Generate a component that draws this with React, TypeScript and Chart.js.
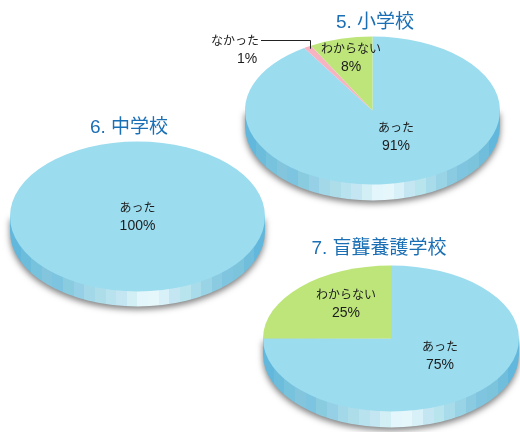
import React, { useEffect, useRef } from "react";
import { Chart, registerables } from "chart.js";

Chart.register(...registerables);

const WIDTH = 520;
const HEIGHT = 432;
const FONT = '"Liberation Sans", "Noto Sans CJK JP", sans-serif';

// Survey results per school type
const elementaryLabels = ["あった", "なかった", "わからない"];
const elementaryValues = [91, 1, 8];
const juniorHighLabels = ["あった"];
const juniorHighValues = [100];
const specialLabels = ["あった", "わからない"];
const specialValues = [75, 25];

const SLICE_COLORS: Record<string, string> = {
  "あった": "#9bdcef",
  "なかった": "#f8b3c2",
  "わからない": "#bde57a",
};

// Colour bands around the rim, left to right
const rimBands = [
  "#62b8dc", "#6cbcdc", "#77c2dc", "#82c5dc", "#7cc4e0", "#8accdf", "#95d0e6", "#a2d8e8",
  "#aeddea", "#b8e2ee", "#c4e6f2", "#d2eff5", "#e2f6fb", "#e6f7fb", "#d8f1f8", "#c4e6f3",
  "#b8e4ee", "#a8dcea", "#98d3e6", "#8acbe2", "#80c5e0", "#7cc4dc", "#70bedc", "#62b8dc",
];

type Pie = {
  title: string;
  titleX: number;
  titleY: number;
  cx: number;
  cy: number;
  rx: number;
  ry: number;
  depth: number;
  labels: string[];
  values: number[];
  anchors: { x: number; y: number }[];
  leader?: { index: number; fromX: number; y: number };
};

const pies: Pie[] = [
  {
    title: "5. 小学校",
    titleX: 375,
    titleY: 23,
    cx: 372.5,
    cy: 110.5,
    rx: 127.5,
    ry: 74,
    depth: 16,
    labels: elementaryLabels,
    values: elementaryValues,
    anchors: [
      { x: 396, y: 129 },
      { x: 235, y: 42 },
      { x: 351, y: 50 },
    ],
    leader: { index: 1, fromX: 261, y: 40 },
  },
  {
    title: "6. 中学校",
    titleX: 129,
    titleY: 128,
    cx: 137.5,
    cy: 216.5,
    rx: 127.5,
    ry: 75,
    depth: 15,
    labels: juniorHighLabels,
    values: juniorHighValues,
    anchors: [{ x: 137.5, y: 209 }],
  },
  {
    title: "7. 盲聾養護学校",
    titleX: 379,
    titleY: 249,
    cx: 391,
    cy: 338.5,
    rx: 128,
    ry: 73,
    depth: 16,
    labels: specialLabels,
    values: specialValues,
    anchors: [
      { x: 440, y: 348 },
      { x: 346, y: 296 },
    ],
  },
];

function drawRim(ctx: CanvasRenderingContext2D, p: Pie) {
  const gradient = ctx.createLinearGradient(p.cx - p.rx, 0, p.cx + p.rx, 0);
  rimBands.forEach((c, i) => {
    gradient.addColorStop(i / rimBands.length, c);
    gradient.addColorStop((i + 1) / rimBands.length, c);
  });
  ctx.save();
  ctx.beginPath();
  ctx.moveTo(p.cx - p.rx, p.cy);
  ctx.lineTo(p.cx - p.rx, p.cy + p.depth);
  ctx.ellipse(p.cx, p.cy + p.depth, p.rx, p.ry, 0, Math.PI, 0, true);
  ctx.lineTo(p.cx + p.rx, p.cy);
  ctx.closePath();
  ctx.shadowColor = "rgba(0,0,0,0.5)";
  ctx.shadowBlur = 6;
  ctx.shadowOffsetY = 3;
  ctx.fillStyle = gradient;
  ctx.fill();
  ctx.restore();
}

function drawTexts(ctx: CanvasRenderingContext2D, p: Pie) {
  ctx.save();
  ctx.textAlign = "center";
  ctx.textBaseline = "middle";
  ctx.fillStyle = "#1b6fb5";
  ctx.font = `19px ${FONT}`;
  ctx.fillText(p.title, p.titleX, p.titleY);

  ctx.fillStyle = "#1c1c1c";
  p.labels.forEach((label, i) => {
    const a = p.anchors[i];
    ctx.font = `12px ${FONT}`;
    ctx.fillText(label, a.x, a.y);
    ctx.font = `14px ${FONT}`;
    ctx.fillText(`${p.values[i]}%`, a.x + (p.leader?.index === i ? 12 : 0), a.y + 17.5);
  });

  if (p.leader) {
    ctx.strokeStyle = "#222222";
    ctx.lineWidth = 1;
    const mid = (p.values.slice(0, p.leader.index).reduce((s, v) => s + v, 0) + p.values[p.leader.index] / 2) / 100;
    const angle = mid * Math.PI * 2;
    const tipX = p.cx + Math.sin(angle) * p.rx * 0.97;
    const tipY = p.cy - Math.cos(angle) * p.ry * 0.97;
    ctx.beginPath();
    ctx.moveTo(p.leader.fromX, p.leader.y + 0.5);
    ctx.lineTo(Math.round(tipX) + 0.5, p.leader.y + 0.5);
    ctx.lineTo(Math.round(tipX) + 0.5, tipY);
    ctx.stroke();
  }
  ctx.restore();
}

// Flattens a round pie into an ellipse and gives it a rim, a title and labels
function tiltedPie(p: Pie) {
  return {
    id: "tiltedPie",
    beforeDatasetsDraw(chart: Chart) {
      const ctx = chart.ctx;
      drawRim(ctx, p);
      ctx.save();
      ctx.translate(0, p.cy);
      ctx.scale(1, p.ry / p.rx);
      ctx.translate(0, -p.rx);
    },
    afterDatasetsDraw(chart: Chart) {
      const ctx = chart.ctx;
      ctx.restore();
      drawTexts(ctx, p);
    },
  };
}

function PieCanvas({ pie }: { pie: Pie }) {
  const ref = useRef<HTMLCanvasElement>(null);
  useEffect(() => {
    const chart = new Chart(ref.current!, {
      type: "pie",
      data: {
        labels: pie.labels,
        datasets: [
          {
            data: pie.values,
            backgroundColor: pie.labels.map((l) => SLICE_COLORS[l]),
            borderWidth: 0,
            clip: false,
          } as any,
        ],
      },
      options: {
        responsive: false,
        animation: false,
        layout: {
          padding: {
            left: pie.cx - pie.rx,
            right: WIDTH - pie.cx - pie.rx,
            top: 0,
            bottom: HEIGHT - pie.rx * 2,
          },
        },
        plugins: { legend: { display: false }, tooltip: { enabled: false } },
      },
      plugins: [tiltedPie(pie)],
    });
    return () => chart.destroy();
  }, [pie]);
  return (
    <canvas
      ref={ref}
      width={WIDTH}
      height={HEIGHT}
      style={{ position: "absolute", left: 0, top: 0, width: WIDTH, height: HEIGHT }}
    />
  );
}

export default function App() {
  return (
    <div style={{ position: "fixed", left: 0, top: 0, width: WIDTH, height: HEIGHT, background: "#fff" }}>
      {pies.map((p) => (
        <PieCanvas key={p.title} pie={p} />
      ))}
    </div>
  );
}
